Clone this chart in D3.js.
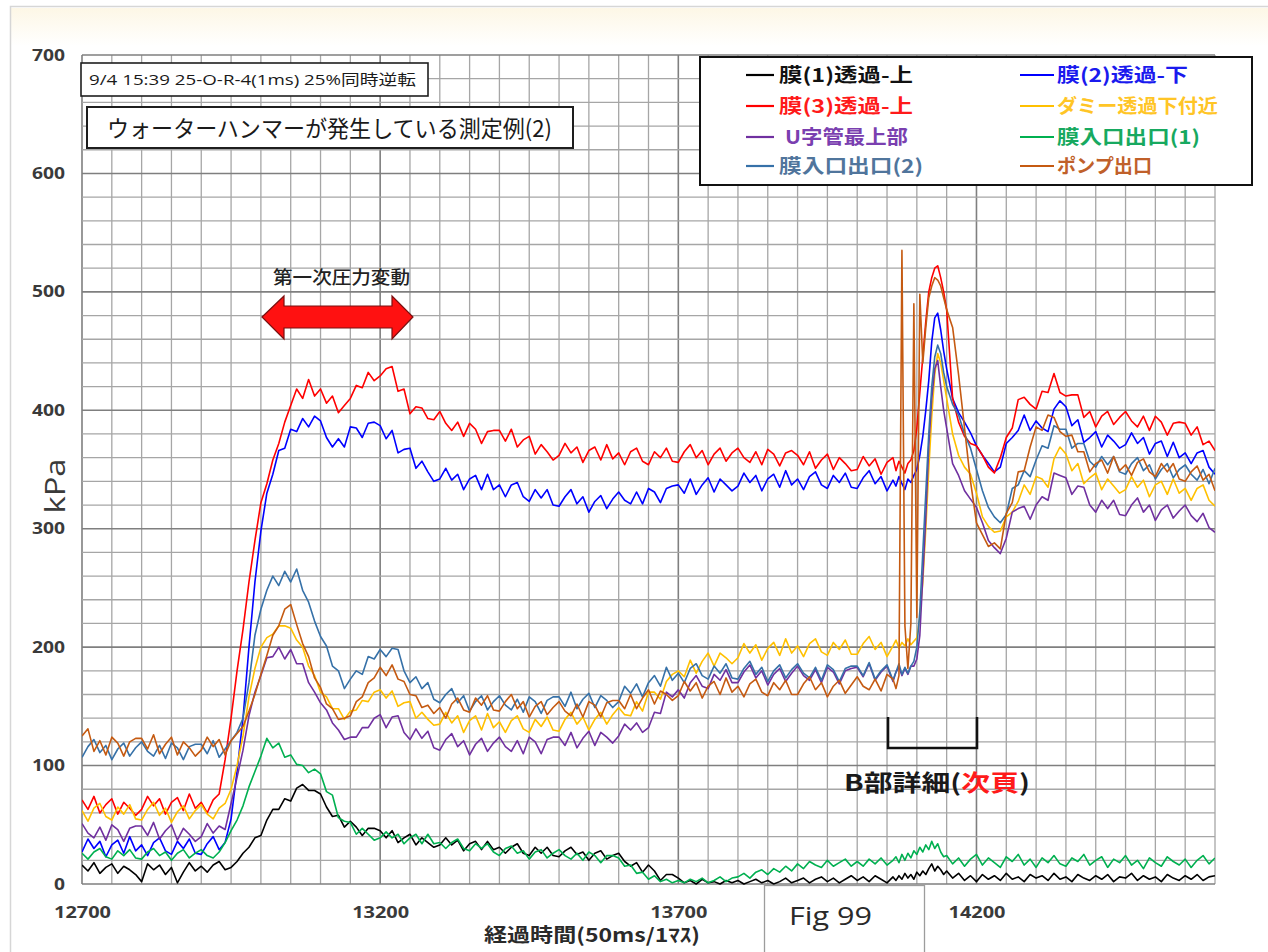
<!DOCTYPE html>
<html><head><meta charset="utf-8">
<script src="https://cdn.jsdelivr.net/npm/d3@7"></script>
<style>
html,body{margin:0;padding:0;background:#fff;}
svg{display:block;}
</style></head><body>
<svg id="chart" width="1268" height="952"></svg>
<script>
// Sample times (ms). Spacing is 10 ms, with 5 ms spacing across the surge (14065–14145).
const sampleTimes = [
  ...d3.range(12700, 14065, 10),
  ...d3.range(14065, 14150, 5),
  ...d3.range(14150, 14601, 10)
];

// Pressure readings (kPa) on the sample times above.
const mem1Upper = [
  16, 11, 18, 9, 14, 17, 9, 15, 12, 8,
  2, 17, 12, 16, 8, 14, 1, 10, 18, 11,
  15, 10, 16, 19, 12, 14, 19, 26, 31, 39,
  41, 54, 63, 63, 72, 70, 81, 84, 79, 79,
  76, 65, 57, 58, 48, 53, 48, 41, 47, 47,
  45, 39, 45, 35, 39, 42, 33, 39, 35, 31,
  33, 39, 33, 37, 28, 34, 36, 29, 36, 29,
  31, 26, 31, 34, 26, 24, 31, 26, 31, 24,
  23, 28, 31, 25, 27, 20, 26, 28, 21, 24,
  26, 19, 15, 18, 10, 16, 11, 3, 8, 8,
  5, 1, 3, 0, 4, 1, 2, 0, 3, 1,
  3, 0, 2, 4, 1, 3, 0, 2, 5, 1,
  3, 5, 1, 4, 6, 2, 5, 1, 4, 7,
  3, 6, 2, 7, 4, 1, 6,
  3, 7, 4, 9, 5, 8, 4, 10, 7, 11, 8, 13, 17, 11, 15, 12, 8,
  11, 5, 9, 3, 7, 2, 8, 4, 7, 3, 9, 4, 6, 2, 8, 5, 7, 3, 9, 4,
  6, 2, 8, 5, 3, 7, 4, 8, 2, 6, 5, 9, 3, 7, 4, 6, 2, 8, 5, 3,
  7, 4, 8, 3, 6, 7
];
const mem2Lower = [
  27, 38, 30, 36, 23, 33, 37, 26, 40, 28,
  33, 24, 35, 39, 28, 25, 36, 30, 38, 26,
  25, 34, 40, 29, 35, 55, 95, 140, 200, 255,
  298, 330, 346, 366, 368, 384, 382, 393, 386, 395,
  391, 377, 369, 376, 369, 386, 385, 377, 389, 390,
  387, 376, 383, 364, 367, 368, 351, 357, 348, 340,
  342, 351, 341, 346, 333, 342, 345, 333, 346, 333,
  337, 327, 337, 339, 327, 323, 333, 326, 333, 320,
  319, 327, 333, 321, 327, 314, 323, 328, 317, 325,
  331, 324, 321, 331, 321, 334, 331, 322, 334, 336,
  337, 330, 342, 329, 337, 343, 331, 342, 337, 332,
  336, 347, 339, 345, 332, 342, 346, 335, 349, 337,
  342, 333, 344, 348, 337, 334, 345, 339, 347, 335,
  334, 343, 349, 338, 344, 332, 341,
  336, 344, 338, 333, 342, 339, 345, 350, 362, 378, 400, 425, 458, 478, 482, 468, 450,
  435, 410, 398, 390, 381, 370, 362, 355, 348, 352, 372, 377, 383, 396, 383, 391, 385, 382, 401, 408,
  403, 387, 392, 373, 377, 382, 369, 379, 374, 368, 371, 381, 372, 377, 363, 372, 374, 361, 373, 360,
  364, 355, 364, 366, 352, 346
];
const mem3Upper = [
  71, 63, 74, 60, 67, 72, 59, 69, 64, 58,
  63, 74, 66, 72, 59, 69, 73, 62, 76, 64,
  69, 60, 71, 76, 105, 140, 180, 215, 255, 290,
  322, 338, 358, 372, 390, 404, 418, 410, 426, 412,
  418, 406, 412, 398, 404, 410, 421, 419, 432, 425,
  429, 435, 437, 416, 418, 397, 403, 402, 393, 392,
  399, 389, 383, 390, 378, 389, 384, 372, 382, 383,
  383, 374, 384, 369, 375, 378, 363, 371, 365, 358,
  362, 372, 364, 369, 356, 366, 369, 358, 371, 359,
  364, 354, 365, 368, 357, 354, 365, 360, 368, 357,
  356, 365, 371, 360, 366, 354, 363, 368, 357, 364,
  368, 360, 356, 365, 354, 367, 363, 353, 364, 366,
  362, 354, 365, 351, 358, 363, 350, 360, 355, 349,
  350, 361, 353, 359, 346, 356, 360,
  349, 357, 352, 347, 355, 358, 366, 385, 415, 445, 475, 500, 512, 520, 522, 512, 500,
  485, 410, 390, 378, 372, 370, 362, 352, 347, 360, 377, 385, 409, 411, 405, 401, 416, 415, 431, 415,
  412, 413, 413, 394, 399, 386, 395, 399, 388, 394, 399, 391, 386, 395, 383, 395, 390, 379, 389, 390,
  389, 379, 386, 371, 374, 366
];
const dummyLower = [
  62, 53, 64, 68, 57, 54, 65, 59, 67, 55,
  54, 63, 69, 58, 64, 52, 61, 66, 55, 62,
  67, 59, 55, 64, 68, 80, 100, 125, 158, 182,
  200, 208, 211, 218, 218, 216, 206, 200, 184, 176,
  162, 158, 148, 148, 139, 146, 147, 155, 154, 162,
  164, 157, 163, 150, 153, 154, 140, 145, 139, 134,
  135, 145, 136, 142, 128, 138, 142, 130, 144, 132,
  137, 128, 138, 142, 131, 128, 139, 133, 141, 130,
  129, 139, 145, 135, 141, 130, 139, 145, 135, 143,
  149, 143, 142, 154, 146, 162, 162, 156, 171, 177,
  180, 175, 189, 178, 188, 195, 184, 195, 191, 186,
  191, 203, 195, 202, 189, 199, 204, 193, 207, 195,
  201, 192, 203, 207, 196, 193, 204, 198, 206, 194,
  194, 203, 209, 198, 204, 192, 201,
  206, 199, 204, 201, 207, 202, 205, 208, 225, 255, 300, 350, 395, 430, 448, 440, 425,
  410, 380, 362, 352, 346, 330, 310, 302, 297, 298, 310, 314, 323, 337, 329, 344, 342, 335, 359, 369,
  363, 349, 355, 338, 343, 347, 333, 342, 336, 330, 333, 344, 335, 341, 327, 337, 340, 329, 342, 330,
  334, 324, 334, 337, 324, 319
];
const uTubeTop = [
  51, 43, 39, 48, 37, 50, 46, 36, 47, 49,
  49, 41, 52, 38, 45, 50, 37, 47, 42, 36,
  40, 51, 43, 49, 46, 68, 90, 113, 142, 162,
  176, 191, 192, 200, 190, 198, 186, 186, 170, 162,
  153, 147, 136, 130, 122, 124, 124, 132, 132, 140,
  143, 132, 141, 142, 128, 122, 131, 123, 129, 115,
  113, 122, 127, 116, 121, 109, 118, 123, 112, 119,
  124, 116, 112, 121, 110, 124, 120, 110, 122, 124,
  124, 117, 128, 115, 123, 129, 117, 128, 124, 119,
  125, 135, 130, 136, 128, 132, 145, 144, 162, 158,
  164, 157, 170, 176, 167, 165, 177, 172, 181, 170,
  170, 179, 185, 174, 180, 168, 177, 182, 171, 178,
  184, 176, 172, 181, 170, 183, 179, 169, 180, 182,
  183, 175, 186, 172, 179, 184, 171,
  179, 183, 176, 182, 177, 184, 184, 190, 210, 260, 310, 370, 410, 435, 442, 420, 400,
  385, 355, 345, 332, 325, 318, 305, 290, 284, 279, 292, 314, 317, 319, 308, 320, 327, 324, 347, 345,
  343, 329, 336, 335, 320, 314, 324, 317, 324, 312, 311, 320, 326, 314, 320, 307, 316, 320, 309, 315,
  320, 311, 306, 313, 301, 297
];
const inletOutlet1 = [
  26, 21, 27, 30, 23, 21, 28, 24, 29, 22,
  21, 27, 30, 24, 27, 20, 26, 29, 22, 26,
  29, 24, 22, 27, 35, 45, 54, 66, 82, 95,
  108, 123, 115, 119, 107, 109, 101, 100, 94, 97,
  93, 78, 75, 56, 53, 52, 42, 47, 42, 37,
  39, 44, 39, 42, 34, 39, 42, 34, 42, 34,
  35, 30, 35, 38, 30, 28, 34, 30, 34, 27,
  24, 30, 32, 26, 28, 21, 27, 29, 22, 26,
  29, 24, 21, 26, 20, 27, 24, 18, 24, 24,
  22, 15, 16, 9, 10, 4, 7, 2, 4, 1,
  3, 1, 4, 2, 5, 1, 3, 6, 2, 5,
  6, 9, 5, 10, 12, 8, 13, 10, 15, 11,
  17, 13, 19, 16, 14, 20, 15, 18, 21, 15,
  19, 15, 21, 17, 22, 16, 20,
  23, 18, 25, 20, 26, 22, 28, 25, 31, 27, 33, 29, 36, 30, 34, 27, 23,
  24, 17, 22, 15, 21, 25, 16, 22, 18, 14, 23, 19, 25, 16, 21, 14, 22, 18, 24, 17,
  15, 22, 19, 25, 16, 20, 23, 14, 21, 18, 24, 16, 20, 13, 22, 18, 15, 23, 19, 16,
  21, 14, 20, 24, 17, 22
];
const inletOutlet2 = [
  107, 116, 122, 111, 117, 105, 114, 119, 108, 115,
  120, 112, 108, 117, 106, 119, 115, 105, 116, 118,
  118, 110, 121, 107, 114, 121, 128, 140, 170, 210,
  232, 248, 260, 252, 264, 255, 266, 248, 238, 222,
  209, 201, 184, 180, 165, 173, 180, 177, 192, 190,
  198, 192, 199, 198, 180, 170, 175, 165, 170, 156,
  153, 160, 165, 153, 159, 146, 154, 159, 147, 154,
  159, 151, 147, 156, 145, 158, 154, 144, 155, 158,
  158, 150, 162, 148, 156, 161, 149, 159, 155, 149,
  154, 167, 161, 169, 158, 170, 176, 167, 183, 172,
  178, 170, 182, 186, 176, 173, 184, 178, 186, 174,
  173, 182, 188, 177, 183, 171, 180, 185, 174, 181,
  186, 178, 174, 183, 172, 185, 181, 171, 182, 184,
  184, 176, 187, 173, 180, 185, 172,
  179, 186, 177, 183, 178, 184, 188, 200, 230, 280, 330, 380, 420, 445, 455, 448, 432,
  420, 405, 396, 380, 368, 350, 332, 318, 310, 305, 312, 334, 337, 349, 344, 358, 370, 368, 387, 384,
  384, 368, 372, 372, 357, 352, 361, 354, 361, 348, 346, 355, 360, 349, 354, 342, 350, 355, 343, 350,
  354, 346, 341, 350, 338, 351
];
const pumpOutlet = [
  125, 131, 112, 121, 109, 124, 119, 108, 120, 123,
  123, 114, 126, 110, 118, 124, 109, 120, 115, 108,
  113, 124, 116, 122, 109, 121, 127, 133, 146, 160,
  177, 193, 210, 218, 232, 236, 219, 203, 192, 174,
  166, 152, 148, 139, 140, 142, 154, 158, 170, 174,
  183, 176, 185, 173, 171, 160, 159, 149, 151, 144,
  149, 140, 152, 157, 147, 145, 157, 151, 159, 147,
  146, 154, 160, 148, 154, 141, 150, 154, 143, 149,
  154, 146, 142, 152, 141, 154, 151, 141, 153, 155,
  155, 148, 160, 148, 157, 164, 152, 163, 160, 155,
  159, 171, 163, 170, 157, 167, 171, 160, 174, 162,
  167, 158, 169, 173, 162, 159, 170, 164, 172, 160,
  160, 169, 175, 164, 170, 158, 167, 172, 161, 168,
  175, 167, 164, 173, 163, 177, 173,
  165, 176, 535, 218, 182, 220, 490, 225, 498, 440, 470, 495, 505, 512, 510, 505, 495,
  485, 470, 430, 385, 340, 305, 295, 285, 288, 283, 313, 322, 348, 349, 369, 386, 383, 396, 394, 382,
  378, 379, 365, 365, 348, 355, 358, 347, 361, 349, 354, 345, 356, 359, 348, 344, 355, 348, 355, 342,
  340, 348, 353, 341, 346, 332
];

// Drawing order follows the legend order: later series sit on top.
const seriesValues = [mem1Upper, mem2Lower, mem3Upper, dummyLower, uTubeTop, inletOutlet1, inletOutlet2, pumpOutlet];
const seriesNames = ["膜(1)透過-上", "膜(2)透過-下", "膜(3)透過-上", "ダミー透過下付近", "U字管最上部", "膜入口出口(1)", "膜入口出口(2)", "ポンプ出口"];
const seriesColors = ["#000000", "#0000ff", "#ff0000", "#ffc000", "#7030a0", "#00b050", "#3671a8", "#c55a11"];
const legendTextColors = ["#111111", "#1a1aee", "#ff1a1a", "#ffc526", "#7a3fb0", "#17a960", "#50759c", "#c0602a"];

const xTicks = [12700, 13200, 13700, 14200];
const yTicks = [0, 100, 200, 300, 400, 500, 600, 700];

const W = 1268, H = 952;
const plot = { left: 82, right: 1215, top: 55, bottom: 884 };

const svg = d3.select("#chart");
const x = d3.scaleLinear().domain([12700, 14600]).range([plot.left, plot.right]);
const y = d3.scaleLinear().domain([0, 700]).range([plot.bottom, plot.top]);

const latin = "'Open Sans', 'Noto Sans CJK JP', sans-serif";
const cjk = "'Noto Sans CJK JP', 'Open Sans', sans-serif";

// page background and frame
const defs = svg.append("defs");
const tint = defs.append("linearGradient").attr("id", "topTint")
  .attr("x1", 0).attr("y1", 0).attr("x2", 0).attr("y2", 1);
tint.append("stop").attr("offset", "0%").attr("stop-color", "#fdf7e6");
tint.append("stop").attr("offset", "100%").attr("stop-color", "#ffffff");
defs.append("clipPath").attr("id", "plotClip").append("rect")
  .attr("x", plot.left).attr("y", plot.top - 2)
  .attr("width", plot.right - plot.left).attr("height", plot.bottom - plot.top + 3);

svg.append("rect").attr("width", W).attr("height", H).attr("fill", "#ffffff");
svg.append("rect").attr("x", 11).attr("y", 8).attr("width", W - 11).attr("height", 38).attr("fill", "url(#topTint)");
svg.append("rect").attr("x", 10.5).attr("y", 6.5).attr("width", W + 20).attr("height", H + 20)
  .attr("fill", "none").attr("stroke", "#d6d6d6").attr("stroke-width", 1.5);

// grid: 50 ms per column, 20 kPa per row
const grid = svg.append("g");
grid.selectAll("line.v").data(d3.range(12700, 14601, 50)).join("line")
  .attr("x1", d => x(d)).attr("x2", d => x(d))
  .attr("y1", plot.top).attr("y2", plot.bottom)
  .attr("stroke", d => (d - 12700) % 500 === 0 ? "#7f7f7f" : "#a6a6a6")
  .attr("stroke-width", d => (d - 12700) % 500 === 0 ? 1.6 : 1.3);
grid.selectAll("line.h").data(d3.range(0, 701, 20)).join("line")
  .attr("x1", plot.left).attr("x2", plot.right)
  .attr("y1", d => y(d)).attr("y2", d => y(d))
  .attr("stroke", d => d % 100 === 0 ? "#7f7f7f" : "#a6a6a6")
  .attr("stroke-width", d => d % 100 === 0 ? 1.6 : 1.3);

// series
const line = d3.line().x((d, i) => x(sampleTimes[i])).y(d => y(d));
const linesG = svg.append("g").attr("clip-path", "url(#plotClip)");
seriesValues.forEach((vals, k) => {
  if (vals.length !== sampleTimes.length) console.error(seriesNames[k], vals.length, sampleTimes.length);
  linesG.append("path").datum(vals)
    .attr("d", line)
    .attr("fill", "none")
    .attr("stroke", seriesColors[k])
    .attr("stroke-width", 1.6)
    .attr("stroke-linejoin", "round");
});

// axes
const yAxis = svg.append("g").attr("transform", `translate(${plot.left},0)`)
  .call(d3.axisLeft(y).tickValues(yTicks).tickSize(0).tickPadding(17));
yAxis.select(".domain").remove();
yAxis.selectAll("text")
  .attr("font-family", latin).attr("font-size", 16).attr("font-weight", 700)
  .attr("fill", "#3a3a3a")
  .attr("textLength", d => String(d).length * 11).attr("lengthAdjust", "spacingAndGlyphs");

const xAxis = svg.append("g").attr("transform", `translate(0,${plot.bottom})`)
  .call(d3.axisBottom(x).tickValues(xTicks).tickSize(0).tickFormat(d3.format("d")));
xAxis.select(".domain").remove();
xAxis.selectAll("text")
  .attr("y", 28).attr("dy", "0.35em")
  .attr("font-family", latin).attr("font-size", 16).attr("font-weight", 700)
  .attr("fill", "#3a3a3a")
  .attr("textLength", 57).attr("lengthAdjust", "spacingAndGlyphs");

// text helper: left-aligned, vertically centred, stretched to a given width
function putText(str, x0, yc, size, width, opts = {}) {
  const t = svg.append("text")
    .attr("x", x0).attr("y", yc).attr("dy", "0.36em")
    .attr("font-family", opts.family || cjk)
    .attr("font-size", size)
    .attr("font-weight", opts.weight || 400)
    .attr("fill", opts.fill || "#1a1a1a");
  if (width) t.attr("textLength", width).attr("lengthAdjust", "spacingAndGlyphs");
  t.text(str);
  return t;
}

// axis titles
svg.append("text")
  .attr("transform", "translate(55,486) rotate(-90)")
  .attr("text-anchor", "middle").attr("dy", "0.36em")
  .attr("font-family", latin).attr("font-size", 27).attr("fill", "#3a3a3a")
  .attr("textLength", 55).attr("lengthAdjust", "spacingAndGlyphs")
  .text("kPa");
putText("経過時間(50ms/1ﾏｽ)", 484, 935, 19, 216, { weight: 700, fill: "#2a2a2a" });

// caption boxes
svg.append("rect").attr("x", 81).attr("y", 63).attr("width", 347).attr("height", 33)
  .attr("fill", "#fff").attr("stroke", "#1e1e1e").attr("stroke-width", 1.6);
putText("9/4 15:39 25-O-R-4(1ms) 25%同時逆転", 89, 79.5, 15, 327, { family: latin });

svg.append("rect").attr("x", 87).attr("y", 107).attr("width", 486).attr("height", 41)
  .attr("fill", "#fff").attr("stroke", "#1e1e1e").attr("stroke-width", 2);
putText("ウォーターハンマーが発生している測定例(2)", 107, 129, 23, 445);

// legend
svg.append("rect").attr("x", 700).attr("y", 57).attr("width", 552).attr("height", 128)
  .attr("fill", "#fff").attr("stroke", "#111").attr("stroke-width", 2);
const legendRows = [75, 106, 137, 166];
const legendLayout = [
  { lx: [746, 774], tx: 779, w: 134 }, { lx: [1020, 1054], tx: 1057, w: 131 },
  { lx: [746, 774], tx: 779, w: 134 }, { lx: [1020, 1054], tx: 1057, w: 161 },
  { lx: [746, 774], tx: 785, w: 123 }, { lx: [1020, 1054], tx: 1057, w: 143 },
  { lx: [746, 774], tx: 779, w: 144 }, { lx: [1020, 1054], tx: 1057, w: 95 }
];
seriesNames.forEach((name, k) => {
  const row = legendRows[Math.floor(k / 2)];
  const L = legendLayout[k];
  svg.append("line").attr("x1", L.lx[0]).attr("x2", L.lx[1]).attr("y1", row).attr("y2", row)
    .attr("stroke", seriesColors[k]).attr("stroke-width", 2.2);
  putText(name, L.tx, row, 19, L.w, { weight: 700, fill: legendTextColors[k] });
});

// first pressure swing annotation
putText("第一次圧力変動", 273, 278, 18, 137, { weight: 500, fill: "#222" });
const arrowPts = [[262, 317], [284, 296], [284, 306], [392, 306], [392, 296], [413, 317],
  [392, 339], [392, 328], [284, 328], [284, 339]];
svg.append("polygon").attr("points", arrowPts.map(p => p.join(",")).join(" "))
  .attr("fill", "#ff1111").attr("stroke", "#7a1010").attr("stroke-width", 1.2)
  .attr("stroke-linejoin", "miter");

// B section bracket and note
svg.append("path").attr("d", "M888,717 V748 H977 V717")
  .attr("fill", "none").attr("stroke", "#111").attr("stroke-width", 2.6);
const bNote = svg.append("text").attr("x", 844).attr("y", 783).attr("dy", "0.36em")
  .attr("font-family", cjk).attr("font-size", 23).attr("font-weight", 700).attr("fill", "#1a1a1a")
  .attr("textLength", 186).attr("lengthAdjust", "spacingAndGlyphs");
bNote.append("tspan").text("B部詳細(");
bNote.append("tspan").attr("fill", "#ff1a1a").text("次頁");
bNote.append("tspan").text(")");

// figure number tag
svg.append("rect").attr("x", 764.5).attr("y", 885.5).attr("width", 160).attr("height", 80)
  .attr("fill", "#fff").attr("stroke", "#9c9c9c").attr("stroke-width", 1.3);
putText("Fig 99", 789, 916, 25, 83, { family: latin, fill: "#2a2a2a" });
</script>
</body></html>
